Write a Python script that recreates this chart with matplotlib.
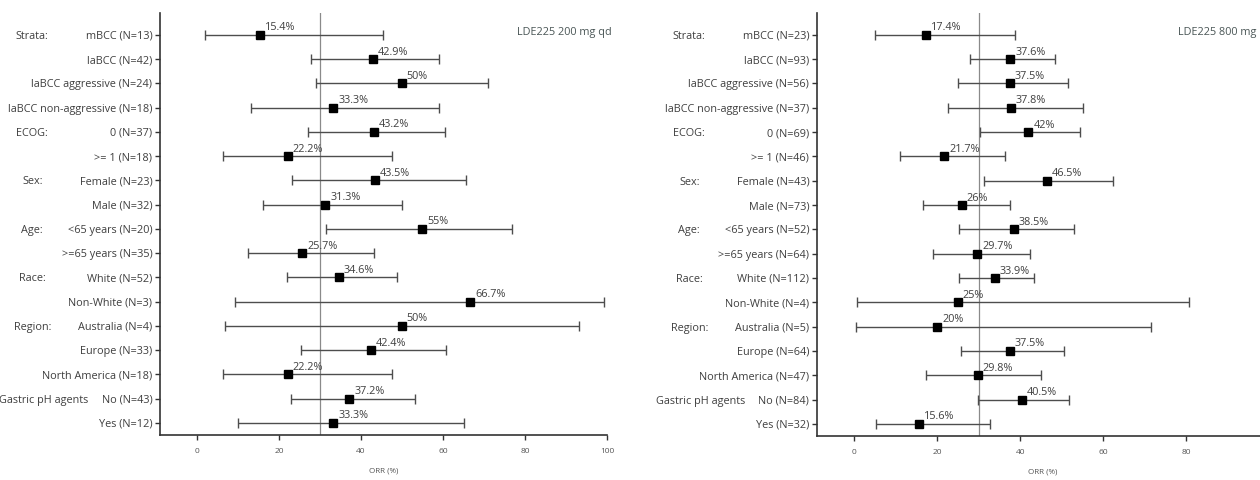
import matplotlib
matplotlib.use("Agg")
import matplotlib.pyplot as plt

plt.rcParams["font.family"] = ["Open Sans", "DejaVu Sans"]

# Subgroups, shared by both dose panels
subgroups = ["mBCC", "laBCC", "laBCC aggressive", "laBCC non-aggressive",
             "0", ">= 1", "Female", "Male", "<65 years", ">=65 years",
             "White", "Non-White", "Australia", "Europe", "North America",
             "No", "Yes"]
group_names = ["Strata:", "ECOG:", "Sex:", "Age:", "Race:", "Region:",
               "Gastric pH agents"]
group_first = [0, 4, 6, 8, 10, 12, 15]

# LDE225 200 mg qd
n_200 = [13, 42, 24, 18, 37, 18, 23, 32, 20, 35, 52, 3, 4, 33, 18, 43, 12]
orr_200 = [15.4, 42.9, 50, 33.3, 43.2, 22.2, 43.5, 31.3, 55, 25.7, 34.6,
           66.7, 50, 42.4, 22.2, 37.2, 33.3]
lo_200 = [1.9, 27.7, 29.1, 13.3, 27.1, 6.4, 23.2, 16.1, 31.5, 12.5, 22.0,
          9.4, 6.8, 25.5, 6.4, 23.0, 9.9]
hi_200 = [45.4, 59.0, 70.9, 59.0, 60.5, 47.6, 65.5, 50.0, 76.9, 43.3, 48.9,
          99.2, 93.2, 60.8, 47.6, 53.3, 65.1]

# LDE225 800 mg
n_800 = [23, 93, 56, 37, 69, 46, 43, 73, 52, 64, 112, 4, 5, 64, 47, 84, 32]
orr_800 = [17.4, 37.6, 37.5, 37.8, 42, 21.7, 46.5, 26, 38.5, 29.7, 33.9,
           25, 20, 37.5, 29.8, 40.5, 15.6]
lo_800 = [5.0, 27.8, 24.9, 22.5, 30.2, 10.9, 31.2, 16.5, 25.3, 18.9, 25.2,
          0.6, 0.5, 25.7, 17.3, 29.9, 5.3]
hi_800 = [38.8, 48.3, 51.5, 55.2, 54.5, 36.4, 62.3, 37.6, 53.0, 42.4, 43.4,
          80.6, 71.6, 50.5, 44.9, 51.7, 32.8]

reference_orr = 30
x_ticks = [0, 20, 40, 60, 80, 100]

TEXT = "#3f3f3f"
LINE = "#4d4d4d"
FS = 7.8
# horizontal centre of each group heading, in points left of the y axis
GROUP_OFFSETS = [-92, -92, -92, -92, -92, -92, -84]

fig = plt.figure(figsize=(12.6, 4.8), dpi=100)
ax_l = fig.add_axes([160 / 1260, 1 - 435 / 480, 447 / 1260, 422 / 480])
ax_r = fig.add_axes([817 / 1260, 1 - 436 / 480, 452 / 1260, 423 / 480])


def forest(ax, title, n, orr, lo, hi):
    rows = list(range(1, len(subgroups) + 1))
    xerr = [[o - l for o, l in zip(orr, lo)], [h - o for o, h in zip(orr, hi)]]
    ax.axvline(reference_orr, color="#8a8a8a", lw=0.9, zorder=1)
    ax.errorbar(orr, rows, xerr=xerr, fmt="none", ecolor=LINE, elinewidth=1.0,
                capsize=3.8, capthick=1.0, zorder=2)
    ax.plot(orr, rows, "s", color="black", ms=5.2, zorder=3)
    for v, r in zip(orr, rows):
        ax.annotate(f"{v:g}%", xy=(v, r), xytext=(3.5, 3.2),
                    textcoords="offset points", ha="left", va="baseline",
                    fontsize=FS, color=TEXT)

    ax.set_xlim(-9, 100)
    ax.set_ylim(17.5, 0.1)
    ax.set_yticks(rows)
    ax.set_yticklabels([f"{s} (N={k})" for s, k in zip(subgroups, n)],
                       fontsize=FS, color=TEXT)
    ax.set_xticks(x_ticks)
    ax.set_xticklabels([str(t) for t in x_ticks], fontsize=6, color="#555555")
    ax.tick_params(axis="y", length=3.5, width=1.0, color="#333333", pad=2)
    ax.tick_params(axis="x", length=3.5, width=1.0, color="#333333", pad=6)
    ax.set_xlabel("ORR (%)", fontsize=5.8, color="#555555", labelpad=9)

    for side in ("top", "right"):
        ax.spines[side].set_visible(False)
    for side in ("left", "bottom"):
        ax.spines[side].set_color("#333333")
        ax.spines[side].set_linewidth(1.2)

    for name, idx, off in zip(group_names, group_first, GROUP_OFFSETS):
        ax.annotate(name, xy=(0, rows[idx]), xycoords=ax.get_yaxis_transform(),
                    xytext=(off, 0), textcoords="offset points",
                    ha="center", va="center_baseline", fontsize=FS, color=TEXT)

    ax.text(78, 0.9, title, ha="left", va="center", fontsize=FS,
            color="#4a5656")


forest(ax_l, "LDE225 200 mg qd", n_200, orr_200, lo_200, hi_200)
forest(ax_r, "LDE225 800 mg", n_800, orr_800, lo_800, hi_800)

fig.savefig("out.png", dpi=100)
